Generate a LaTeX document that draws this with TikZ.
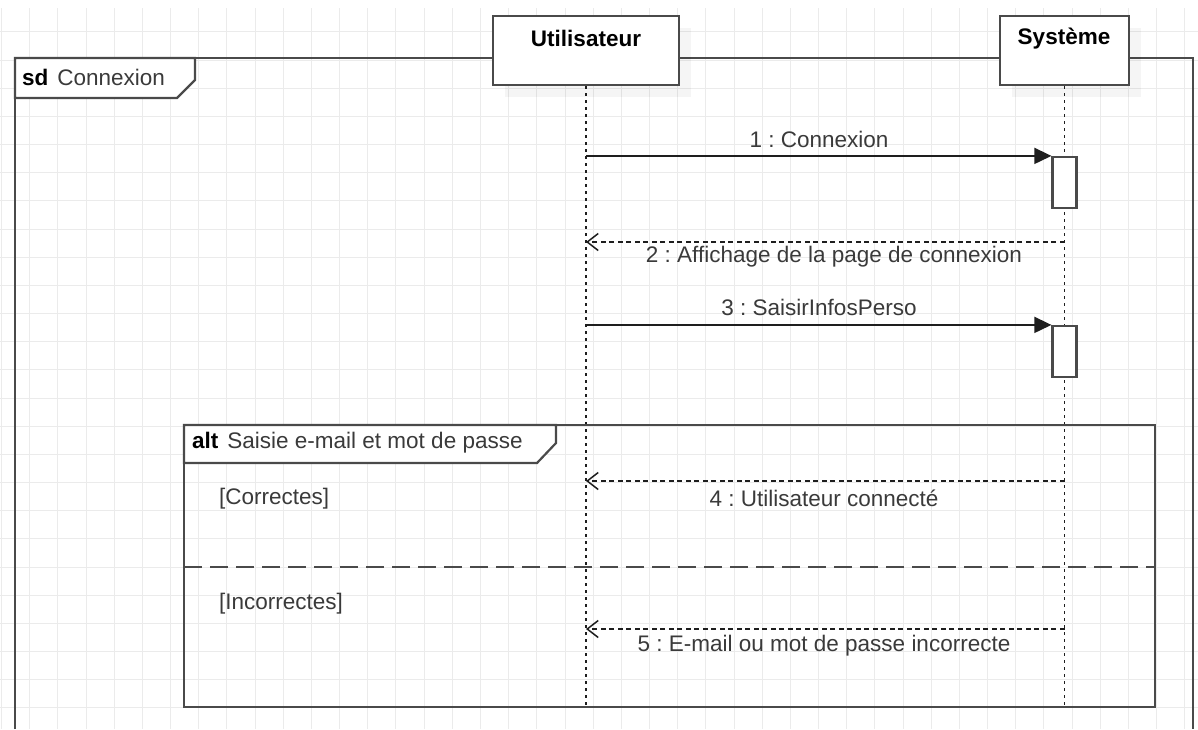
\documentclass[tikz,border=0pt]{standalone}
\usepackage{fontspec}
\setmainfont{Liberation Sans}
\usetikzlibrary{arrows.meta,calc}
\frenchspacing

\definecolor{gridc}{HTML}{EBEBEB}
\definecolor{frm}{HTML}{4A4A4A}
\definecolor{txt}{HTML}{3A3A3A}
\definecolor{lnc}{HTML}{1E1E1E}

\tikzset{
  every node/.style={font=\fontsize{22.5}{26}\selectfont, text=txt, inner sep=0pt},
  gridline/.style={draw=gridc, line width=1pt},
  frameline/.style={draw=frm, line width=2.2pt},
  headbox/.style={draw=frm, line width=2.2pt, fill=white, minimum height=69pt},
  headshadow/.style={fill=black, fill opacity=0.04, draw=none},
  actbox/.style={draw=frm, line width=2.2pt, fill=white, minimum width=24pt, minimum height=51pt},
  lifeline/.style={draw=lnc, line width=1.5pt, dash pattern=on 3pt off 4pt},
  syncmsg/.style={draw=lnc, line width=1.6pt, -{Triangle[length=17pt,width=16pt]}},
  retmsg/.style={draw=lnc, line width=1.5pt, dash pattern=on 5pt off 3.5pt,
                 -{Straight Barb[length=11pt,width=17pt,line width=1.5pt]}},
  sepline/.style={draw=frm, line width=2.2pt, dash pattern=on 18pt off 8pt},
}

\begin{document}
\begin{tikzpicture}[x=1pt,y=-1pt]
\useasboundingbox (0,0) rectangle (1198,729);
\fill[white] (0,0) rectangle (1198,729);

% background grid
\foreach \i in {0,...,42}
  \draw[gridline] ({1.6+28.17*\i},8) -- ({1.6+28.17*\i},729);
\foreach \j in {1,...,25}
  \draw[gridline] (0,{3.7+28.17*\j}) -- (1198,{3.7+28.17*\j});

% sequence diagram frame
\draw[frameline] (15,729) -- (15,58) -- (1193,58) -- (1193,729);
\filldraw[frameline, fill=white] (15,58) -- (195,58) -- (195,80) -- (177,98) -- (15,98) -- cycle;
\node[anchor=west] (sdlab) at (22,77) {\textbf{\color{black}sd}\hspace{9pt}Connexion};

% lifeline heads
\fill[headshadow] (505,28) rectangle (691,97);
\fill[headshadow] (1012,28) rectangle (1141,97);
\node[headbox, minimum width=186pt] (user) at (586,50.5) {};
\node[headbox, minimum width=129pt] (sys) at (1064.5,50.5) {};
\node (userT) at (586,38) {\textbf{\color{black}Utilisateur}};
\node (sysT) at (1064,39) {\textbf{\color{black}Système}};

% lifelines
\coordinate (userEnd) at (user.south |- 0,707);
\coordinate (sysEnd) at (sys.south |- 0,707);
\draw[lifeline] (user.south) -- (userEnd);
\draw[lifeline] (sys.south) -- (sysEnd);

% activation bars
\node[actbox] (act1) at (sys.south |- 0,182.5) {};
\node[actbox] (act2) at (sys.south |- 0,351.5) {};

% messages
\coordinate (u1) at (user.south |- act1.north west);
\draw[syncmsg] (u1) -- (act1.north west);
\node (l1) at (819,139) {1 : Connexion};

\coordinate (s2) at (sys.south |- 0,242);
\draw[retmsg] (s2) -- (s2 -| user.south);
\node (l2) at (834,257) {2 : Affichage de la page de connexion};

\coordinate (u3) at (user.south |- act2.north west);
\draw[syncmsg] (u3) -- (act2.north west);
\node (l3) at (819,307) {3 : SaisirInfosPerso};

% alternative fragment
\draw[frameline] (184,425) rectangle (1155,707);
\filldraw[frameline, fill=white] (184,425) -- (556,425) -- (556,443) -- (537,463) -- (184,463) -- cycle;
\node[anchor=west] (altlab) at (192,443) {\textbf{\color{black}alt}\hspace{9pt}Saisie e-mail et mot de passe};
\node[anchor=west] (g1) at (219,499) {[Correctes]};
\draw[sepline] (184,567) -- (1155,567);
\node[anchor=west] (g2) at (219,604) {[Incorrectes]};

\coordinate (s4) at (sys.south |- 0,481);
\draw[retmsg] (s4) -- (s4 -| user.south);
\node (l4) at (824,498) {4 : Utilisateur connecté};

\coordinate (s5) at (sys.south |- 0,629);
\draw[retmsg] (s5) -- (s5 -| user.south);
\node (l5) at (824,646) {5 : E-mail ou mot de passe incorrecte};
\end{tikzpicture}
\end{document}
